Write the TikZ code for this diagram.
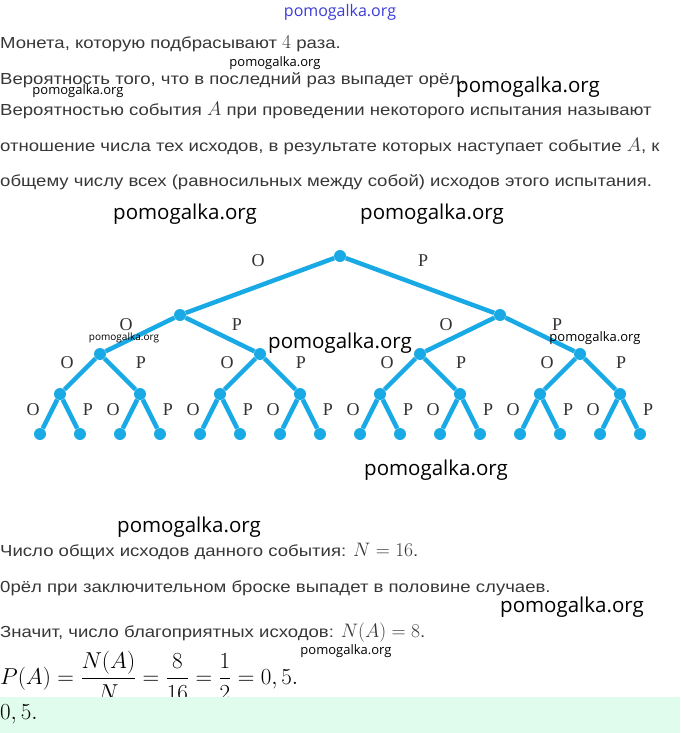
\documentclass[tikz,border=0pt]{standalone}
\usepackage{fix-cm}
\usepackage{amsmath}
\usepackage{fontspec}
\setmainfont{Liberation Sans}[FakeStretch=1.16]
\newfontfamily\wmfont{Open Sans}
\newfontfamily\treefont{Liberation Serif}
\usetikzlibrary{backgrounds}
\definecolor{treeblue}{RGB}{25,170,230}
\definecolor{bodygray}{RGB}{55,55,55}
\definecolor{answergreen}{RGB}{224,252,237}
\definecolor{wmblue}{RGB}{60,60,215}
\newcommand\bigmath[1]{{\fontsize{19.5}{18}\selectfont$#1$}}

\begin{document}
\begin{tikzpicture}[x=1pt, y=-1pt,
  textline/.style={anchor=west, inner sep=0pt, text=bodygray, font=\fontsize{16}{18}\selectfont},
  wm/.style={inner sep=0pt, font=\wmfont\fontsize{13}{13}\selectfont},
  wmbig/.style={inner sep=0pt, font=\wmfont\fontsize{20.5}{20}\selectfont},
  dot/.style={circle, fill=treeblue, minimum size=12pt, inner sep=0pt},
  branch/.style={line width=4.5pt, treeblue},
  side/.style={font=\treefont\fontsize{18}{18}\selectfont, text=black!80, inner sep=0pt}]
\useasboundingbox (0,0) rectangle (680,733);

% Text above the tree
\node[textline] (t1) at (0,44) {Монета, которую подбрасывают \bigmath{4} раза.};
\node[textline] (t2) at (0,80) {Вероятность того, что в последний раз выпадет орёл.};
\node[textline] (t3) at (0,110) {Вероятностью события \bigmath{A} при проведении некоторого испытания называют};
\node[textline] (t4) at (0,146) {отношение числа тех исходов, в результате которых наступает событие \bigmath{A}, к};
\node[textline] (t5) at (0,182) {общему числу всех (равносильных между собой) исходов этого испытания.};

% Tree of the four tosses
\foreach \k/\y in {0/256,1/315,2/354,3/394,4/434} {
  \pgfmathtruncatemacro\n{2^\k-1}
  \foreach \i in {0,...,\n} {
    \pgfmathsetmacro\xx{340+(\i-\n/2)*640/2^\k}
    \node[dot] (n\k-\i) at (\xx,\y) {};
  }
}
\begin{pgfonlayer}{background}
\foreach \k/\ox/\oy/\px in {1/-2/-25/3,2/-14/-10/17,3/-13/-11/21,4/-17/-4/18} {
  \pgfmathtruncatemacro\km{\k-1}
  \pgfmathtruncatemacro\m{2^\km-1}
  \foreach \j in {0,...,\m} {
    \pgfmathtruncatemacro\a{2*\j}
    \pgfmathtruncatemacro\b{2*\j+1}
    \draw[branch] (n\km-\j) -- (n\k-\a) node[side, midway, shift={(\ox,\oy)}] {O};
    \draw[branch] (n\km-\j) -- (n\k-\b) node[side, midway, shift={(\px,\oy)}] {P};
  }
}
\end{pgfonlayer}

% Text below the tree
\node[textline] (b1) at (0,551) {Число общих исходов данного события: \bigmath{N=16}.};
\node[textline] (b2) at (0,588) {0рёл при заключительном броске выпадет в половине случаев.};
\node[textline] (b3) at (0,633) {Значит, число благоприятных исходов: \bigmath{N(A)=8}.};
\node[anchor=west, inner sep=0pt, font=\fontsize{23}{24}\selectfont] (frac) at (0,676)
  {$P(A)=\dfrac{N(A)}{N}=\dfrac{8}{16}=\dfrac{1}{2}=0,5.$};
\fill[answergreen] (0,697) rectangle (680,733);
\node[anchor=west, inner sep=0pt, font=\fontsize{23}{24}\selectfont] (ans) at (0,714) {$0,5.$};

% Watermarks
\node[wm, text=wmblue, font=\wmfont\fontsize{16}{16}\selectfont] (w0) at (340,12) {pomogalka.org};
\node[wm] (w1) at (275,63) {pomogalka.org};
\node[wm] (w2) at (78,91) {pomogalka.org};
\node[wmbig] (w3) at (528,87) {pomogalka.org};
\node[wmbig] (w4) at (185,214) {pomogalka.org};
\node[wmbig] (w5) at (432,214) {pomogalka.org};
\node[wm, font=\wmfont\fontsize{10}{10}\selectfont] (w6) at (124,338) {pomogalka.org};
\node[wmbig] (w7) at (340,343) {pomogalka.org};
\node[wm] (w8) at (595,338) {pomogalka.org};
\node[wmbig] (w9) at (436,470) {pomogalka.org};
\node[wmbig] (w10) at (189,527) {pomogalka.org};
\node[wmbig] (w11) at (572,607) {pomogalka.org};
\node[wm] (w12) at (346,651) {pomogalka.org};
\end{tikzpicture}
\end{document}
